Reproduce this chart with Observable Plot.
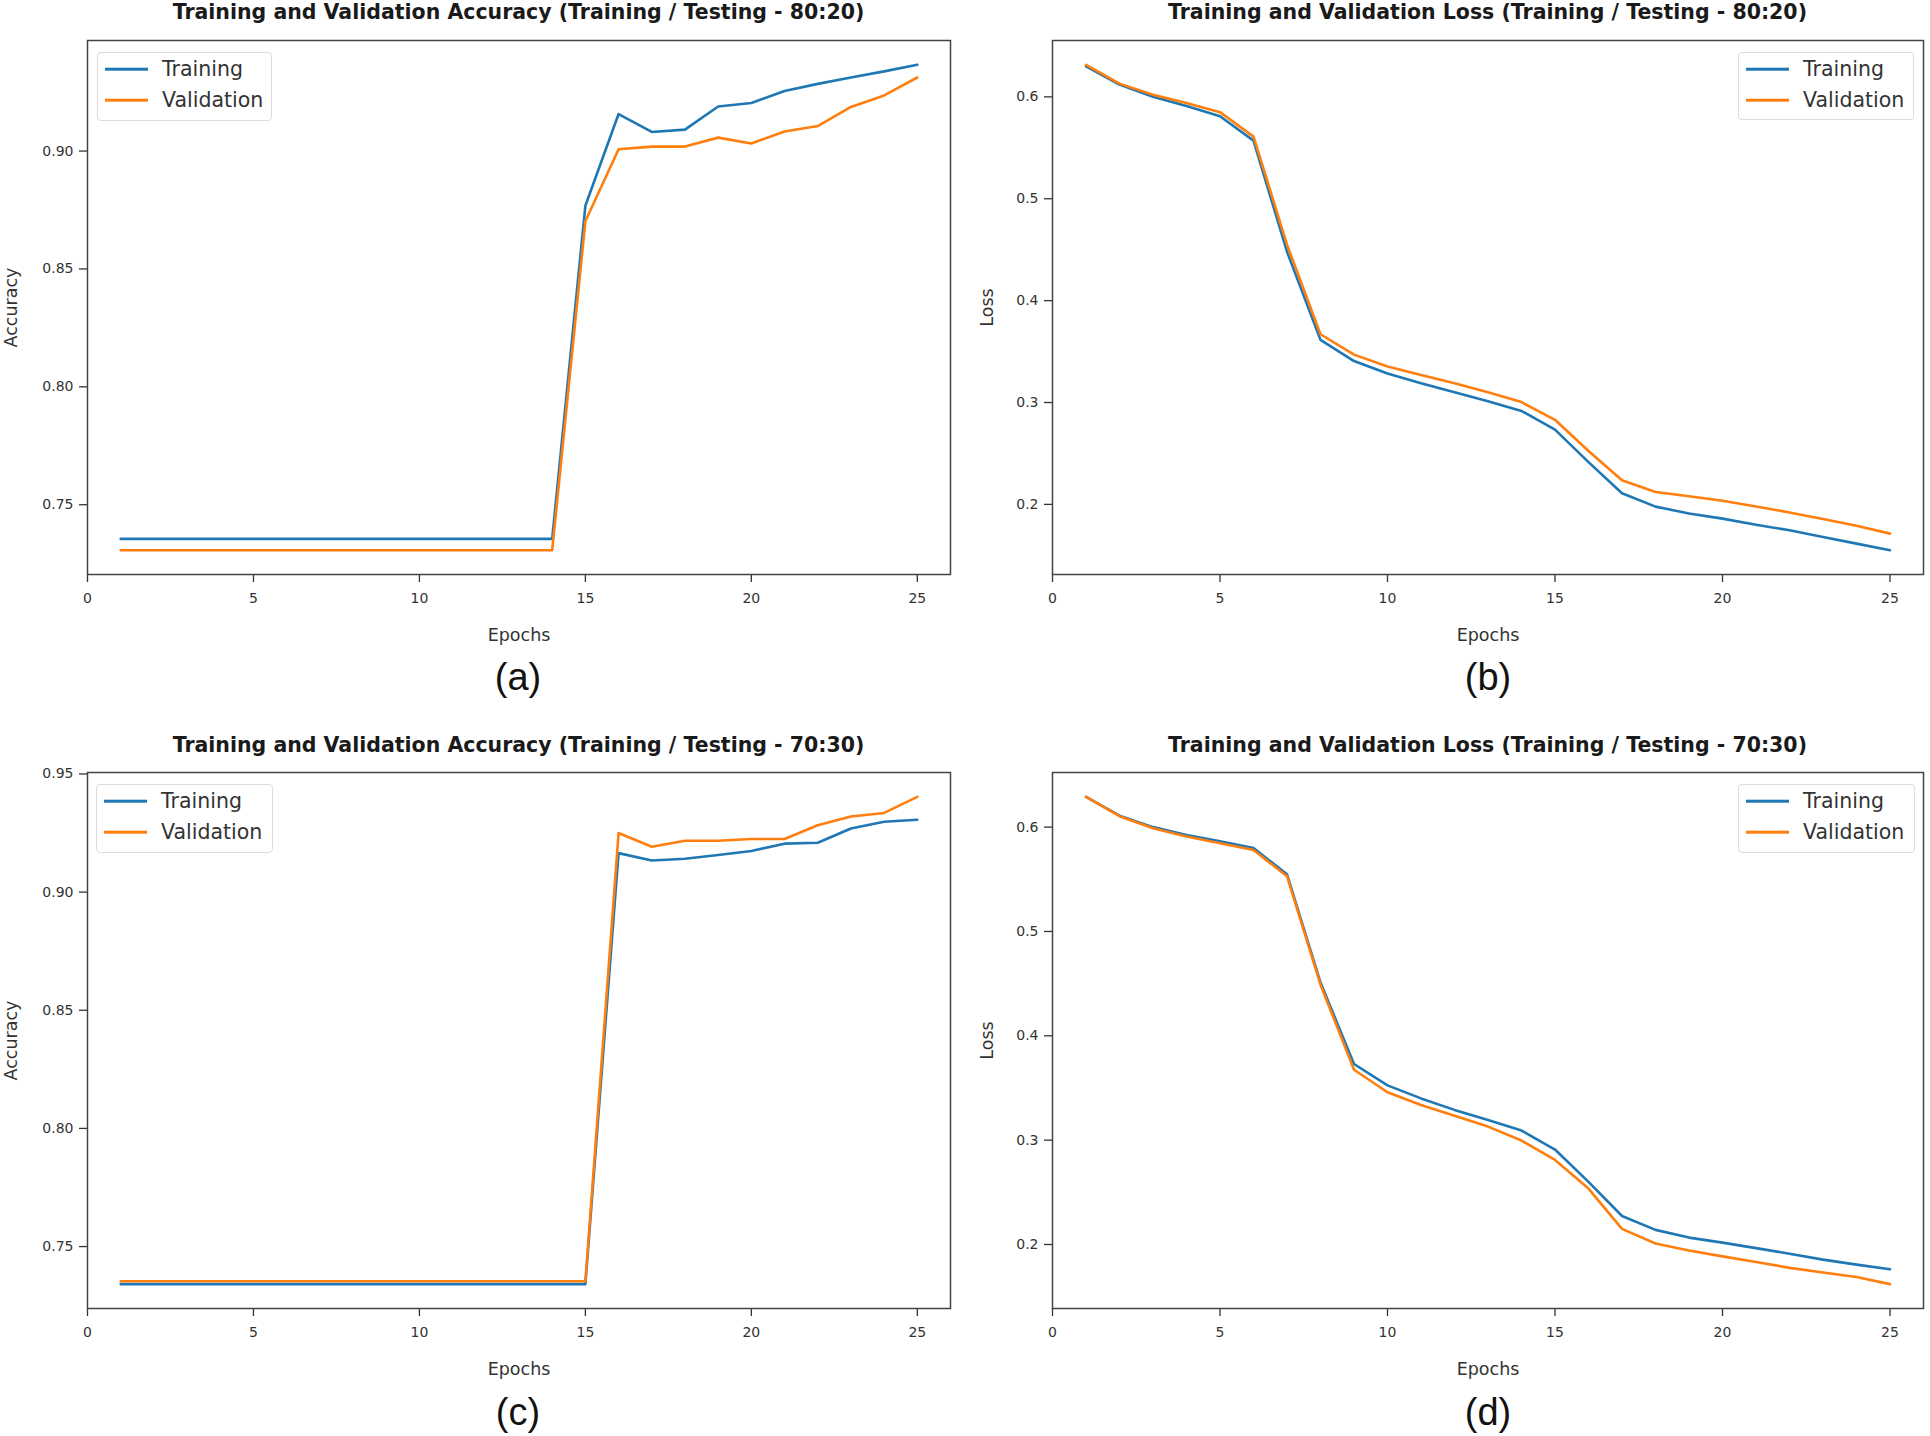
<!DOCTYPE html>
<html><head><meta charset="utf-8">
<script src="https://cdn.jsdelivr.net/npm/d3@7"></script>
<script src="https://cdn.jsdelivr.net/npm/@observablehq/plot@0.6"></script>
<style>
html,body{margin:0;padding:0;background:#fff;}
body{width:1930px;height:1436px;position:relative;overflow:hidden;font-family:"DejaVu Sans",sans-serif;}
.abs{position:absolute;}
.title{font-weight:bold;font-size:20.5px;color:#1a1a1a;white-space:nowrap;transform:translate(-50%,-50%);}
.cap{font-family:"Liberation Sans",Arial,sans-serif;font-size:38px;color:#111;white-space:nowrap;transform:translate(-50%,-50%);}
.legend{border:1.5px solid #dcdcdc;border-radius:4px;background:#fff;box-sizing:border-box;}
.swatch{position:absolute;width:43px;height:2.6px;transform:translateY(-50%);}
.ltxt{position:absolute;font-size:20.5px;color:#333;white-space:nowrap;transform:translateY(-50%);}
</style>
</head><body>
<script>
// ---- data ----
const epochs = [1,2,3,4,5,6,7,8,9,10,11,12,13,14,15,16,17,18,19,20,21,22,23,24,25];
const seriesNames = ["Training","Validation"];
const seriesColors = ["#1f77b4","#ff7f0e"];
const xTicks = [0,5,10,15,20,25];

const accTrain80 = [0.7355,0.7355,0.7355,0.7355,0.7355,0.7355,0.7355,0.7355,0.7355,0.7355,0.7355,0.7355,0.7355,0.7355,0.8768,0.9157,0.9081,0.9091,0.9189,0.9204,0.9255,0.9285,0.9312,0.9338,0.9366];
const accVal80   = [0.7307,0.7307,0.7307,0.7307,0.7307,0.7307,0.7307,0.7307,0.7307,0.7307,0.7307,0.7307,0.7307,0.7307,0.8702,0.9008,0.9019,0.9019,0.9057,0.9032,0.9083,0.9106,0.9187,0.9236,0.9312];

const lossTrain80 = [0.630,0.612,0.600,0.591,0.581,0.557,0.448,0.3615,0.3407,0.3284,0.319,0.310,0.3013,0.2917,0.2734,0.2415,0.211,0.1978,0.191,0.186,0.180,0.1746,0.168,0.1615,0.155];
const lossVal80   = [0.6315,0.613,0.602,0.594,0.585,0.561,0.455,0.367,0.347,0.3354,0.327,0.319,0.310,0.3004,0.283,0.2524,0.2236,0.2122,0.208,0.2035,0.198,0.192,0.1856,0.179,0.1713];

const accTrain70 = [0.7341,0.7341,0.7341,0.7341,0.7341,0.7341,0.7341,0.7341,0.7341,0.7341,0.7341,0.7341,0.7341,0.7341,0.7341,0.9165,0.9134,0.9141,0.9157,0.9174,0.9205,0.9209,0.9269,0.9298,0.9306];
const accVal70   = [0.7353,0.7353,0.7353,0.7353,0.7353,0.7353,0.7353,0.7353,0.7353,0.7353,0.7353,0.7353,0.7353,0.7353,0.7353,0.925,0.9192,0.9217,0.9217,0.9225,0.9225,0.9283,0.932,0.9335,0.9403];

const lossTrain70 = [0.629,0.611,0.600,0.5925,0.5864,0.580,0.5547,0.451,0.373,0.3525,0.340,0.329,0.3193,0.3092,0.291,0.260,0.2273,0.214,0.2066,0.2018,0.1965,0.1912,0.1855,0.1807,0.1763];
const lossVal70   = [0.629,0.6105,0.599,0.591,0.5846,0.578,0.553,0.449,0.3675,0.3459,0.3336,0.3234,0.3130,0.2996,0.281,0.2536,0.215,0.2009,0.1943,0.1886,0.1833,0.1776,0.1732,0.1688,0.162];

const accTicks80 = [0.75,0.80,0.85,0.90];
const accTicks70 = [0.75,0.80,0.85,0.90,0.95];
const lossTicks  = [0.2,0.3,0.4,0.5,0.6];

const titles = [
  "Training and Validation Accuracy (Training / Testing - 80:20)",
  "Training and Validation Loss (Training / Testing - 80:20)",
  "Training and Validation Accuracy (Training / Testing - 70:30)",
  "Training and Validation Loss (Training / Testing - 70:30)"
];
const captions = ["(a)","(b)","(c)","(d)"];
const yLabels = ["Accuracy","Loss","Accuracy","Loss"];
const xLabel = "Epochs";

// ---- layout ----
const panels = [
  {train:accTrain80, val:accVal80, ticks:accTicks80, digits:2, left:0,   top:28,  mL:87, mR:15, mB:76, labDx:-76, leg:{left:97,  top:52,  w:175, h:69}, cx:518,  cy:677,  ty:12},
  {train:lossTrain80,val:lossVal80,ticks:lossTicks,  digits:1, left:965, top:28,  mL:87, mR:7,  mB:76, labDx:-65, leg:{left:1738,top:52,  w:176, h:68}, cx:1488, cy:677,  ty:12},
  {train:accTrain70, val:accVal70, ticks:accTicks70, digits:2, left:0,   top:760, mL:87, mR:15, mB:74, labDx:-76, leg:{left:96,  top:784, w:177, h:69}, cx:518,  cy:1412, ty:745},
  {train:lossTrain70,val:lossVal70,ticks:lossTicks,  digits:1, left:965, top:760, mL:87, mR:7,  mB:74, labDx:-65, leg:{left:1738,top:784, w:177, h:69}, cx:1488, cy:1412, ty:745}
];

panels.forEach((p, k) => {
  const rows = epochs.flatMap((e, i) => [
    {epoch: e, value: p.train[i], series: seriesNames[0]},
    {epoch: e, value: p.val[i], series: seriesNames[1]}
  ]);
  const [lo, hi] = d3.extent(rows, d => d.value);
  const pad = (hi - lo) * 0.05;
  const width = 965, height = 622;
  const chart = Plot.plot({
    width, height,
    marginTop: 12, marginBottom: p.mB, marginLeft: p.mL, marginRight: p.mR,
    x: {domain: [0, 26]},
    y: {domain: [lo - pad, hi + pad]},
    color: {domain: seriesNames, range: seriesColors},
    style: {fontFamily: "DejaVu Sans", fontSize: "14px", color: "#333", background: "transparent"},
    marks: [
      Plot.axisX({ticks: xTicks, tickSize: 8, tickPadding: 11, tickFormat: d => String(d), label: null, fontSize: 14, strokeWidth: 1.3}),
      Plot.axisY({ticks: p.ticks, tickSize: 8, tickPadding: 6, tickFormat: d => d.toFixed(p.digits), label: null, fontSize: 14, strokeWidth: 1.3}),
      Plot.lineY(rows, {x: "epoch", y: "value", stroke: "series", z: "series", strokeWidth: 2.6}),
      Plot.frame({stroke: "#444", strokeWidth: 1.5}),
      Plot.text([xLabel], {text: d => d, frameAnchor: "bottom", lineAnchor: "middle", textAnchor: "middle", dy: 61, fontSize: 17.5, fill: "#333"}),
      Plot.text([yLabels[k]], {text: d => d, frameAnchor: "left", textAnchor: "middle", lineAnchor: "middle", dx: p.labDx, rotate: -90, fontSize: 17.5, fill: "#333"})
    ]
  });
  chart.classList.add("abs");
  chart.style.left = p.left + "px";
  chart.style.top = p.top + "px";
  document.body.appendChild(chart);

  // title
  const t = document.createElement("div");
  t.className = "abs title";
  t.textContent = titles[k];
  t.style.left = (p.left + p.mL + (width - p.mL - p.mR) / 2) + "px";
  t.style.top = p.ty + "px";
  document.body.appendChild(t);

  // caption
  const c = document.createElement("div");
  c.className = "abs cap";
  c.textContent = captions[k];
  c.style.left = p.cx + "px";
  c.style.top = p.cy + "px";
  document.body.appendChild(c);

  // legend
  const lg = document.createElement("div");
  lg.className = "abs legend";
  lg.style.left = p.leg.left + "px";
  lg.style.top = p.leg.top + "px";
  lg.style.width = p.leg.w + "px";
  lg.style.height = p.leg.h + "px";
  seriesNames.forEach((name, j) => {
    const yy = 16 + j * 31;
    const sw = document.createElement("div");
    sw.className = "swatch";
    sw.style.left = "7px";
    sw.style.top = yy + "px";
    sw.style.background = seriesColors[j];
    lg.appendChild(sw);
    const tx = document.createElement("div");
    tx.className = "ltxt";
    tx.style.left = "64px";
    tx.style.top = yy + "px";
    tx.textContent = name;
    lg.appendChild(tx);
  });
  document.body.appendChild(lg);
});
</script>
</body></html>
